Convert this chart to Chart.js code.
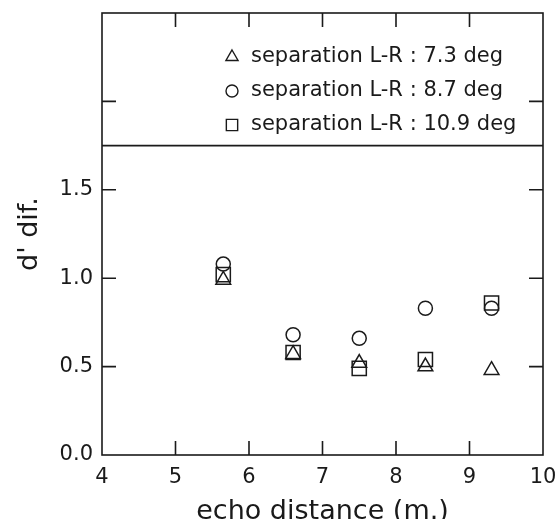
<!DOCTYPE html>
<html>
<head>
<meta charset="utf-8">
<script src="https://cdn.jsdelivr.net/npm/chart.js@4/dist/chart.umd.min.js"></script>
<style>
html, body { margin: 0; padding: 0; background: #fff; }
</style>
</head>
<body>
<canvas id="myChart" width="560" height="519"></canvas>
<script>
// values
var distance = [5.65, 6.6, 7.5, 8.4, 9.3];
var sep73 = [0.99, 0.57, 0.52, 0.50, 0.48];   // triangles
var sep87 = [1.08, 0.68, 0.66, 0.83, 0.83];   // circles
var sep109 = [1.02, 0.58, 0.49, 0.54, 0.86];  // squares

var seriesNames = ['separation L-R : 7.3 deg', 'separation L-R : 8.7 deg', 'separation L-R : 10.9 deg'];
var seriesStyles = ['triangle', 'circle', 'rect'];

var xTicks = [4, 5, 6, 7, 8, 9, 10];
var yTicks = [0, 0.5, 1.0, 1.5];
var yTickLabels = ['0.0', '0.5', '1.0', '1.5'];
var xInnerTicks = [5, 6, 7, 8, 9];
var yInnerTicks = [0.5, 1.0, 1.5, 2.0];
var legendLine = 1.75;

var ink = '#1a1a1a';
var fontFamily = '"DejaVu Sans", sans-serif';

function toPoints(ys) {
    return distance.map(function (x, i) { return { x: x, y: ys[i] }; });
}

// frame, inward ticks, legend box
var framePlugin = {
    id: 'frame',
    afterDraw: function (chart) {
        var ctx = chart.ctx;
        var a = chart.chartArea;
        var xs = chart.scales.x, ys = chart.scales.y;
        var tl = 14;
        ctx.save();
        ctx.strokeStyle = ink;
        ctx.lineWidth = 1.6;
        ctx.strokeRect(a.left, a.top, a.right - a.left, a.bottom - a.top);
        var yl = ys.getPixelForValue(legendLine);
        ctx.beginPath();
        ctx.moveTo(a.left, yl);
        ctx.lineTo(a.right, yl);
        xInnerTicks.forEach(function (v) {
            var px = xs.getPixelForValue(v);
            ctx.moveTo(px, a.bottom); ctx.lineTo(px, a.bottom - tl);
            ctx.moveTo(px, a.top); ctx.lineTo(px, a.top + tl);
        });
        yInnerTicks.forEach(function (v) {
            var py = ys.getPixelForValue(v);
            ctx.moveTo(a.left, py); ctx.lineTo(a.left + tl, py);
            ctx.moveTo(a.right, py); ctx.lineTo(a.right - tl, py);
        });
        ctx.stroke();

        // legend
        var lx = a.left + 130;
        var ly = [a.top + 44, a.top + 78, a.top + 112];
        var radii = [7, 6, 8];
        ctx.textBaseline = 'middle';
        ctx.textAlign = 'left';
        for (var i = 0; i < seriesNames.length; i++) {
            ctx.lineWidth = 1.4;
            ctx.strokeStyle = ink;
            ctx.fillStyle = 'rgba(0,0,0,0)';
            Chart.helpers.drawPoint(ctx, { pointStyle: seriesStyles[i], radius: radii[i], rotation: 0, borderWidth: 1.4 }, lx, ly[i]);
            ctx.font = '21px ' + fontFamily;
            ctx.fillStyle = ink;
            ctx.fillText(seriesNames[i], lx + 19, ly[i]);
        }
        ctx.restore();
    }
};

function ds(label, ys, style, r) {
    return {
        label: label,
        data: toPoints(ys),
        pointStyle: style,
        pointRadius: r,
        pointHoverRadius: r,
        borderColor: ink,
        backgroundColor: 'rgba(0,0,0,0)',
        borderWidth: 1.5,
        showLine: false
    };
}

var ctx = document.getElementById('myChart').getContext('2d');
var myChart = new Chart(ctx, {
    type: 'scatter',
    data: {
        datasets: [
            ds(seriesNames[0], sep73, 'triangle', 8.5),
            ds(seriesNames[1], sep87, 'circle', 7),
            ds(seriesNames[2], sep109, 'rect', 10)
        ]
    },
    options: {
        responsive: false,
        animation: false,
        devicePixelRatio: 1,
        layout: { padding: { top: 13, right: 17, bottom: 0, left: 0 } },
        plugins: { legend: { display: false }, tooltip: { enabled: false } },
        scales: {
            x: {
                type: 'linear',
                min: 4,
                max: 10,
                afterBuildTicks: function (s) { s.ticks = xTicks.map(function (v) { return { value: v }; }); },
                afterFit: function (s) { s.height = 64; s.paddingLeft = 0; s.paddingRight = 0; },
                grid: { display: false, drawTicks: false, tickLength: 0 },
                border: { display: false },
                ticks: {
                    autoSkip: false, maxRotation: 0, padding: 10, color: ink,
                    font: { family: fontFamily, size: 21 },
                    callback: function (v) { return String(v); }
                },
                title: {
                    display: true, text: 'echo distance (m.)', color: ink,
                    font: { family: fontFamily, size: 27, lineHeight: 0.5 },
                    padding: 0
                }
            },
            y: {
                min: 0,
                max: 2.5,
                afterBuildTicks: function (s) { s.ticks = yTicks.map(function (v) { return { value: v }; }); },
                afterFit: function (s) { s.width = 102; s.paddingTop = 0; s.paddingBottom = 0; },
                grid: { display: false, drawTicks: false, tickLength: 0 },
                border: { display: false },
                ticks: {
                    padding: 9, color: ink,
                    font: { family: fontFamily, size: 21 },
                    callback: function (v, i) { return yTickLabels[i]; }
                },
                title: {
                    display: true, text: "d' dif.", color: ink,
                    font: { family: fontFamily, size: 27 },
                    padding: { top: 14, bottom: 0 }
                }
            }
        }
    },
    plugins: [framePlugin]
});
</script>
</body>
</html>
